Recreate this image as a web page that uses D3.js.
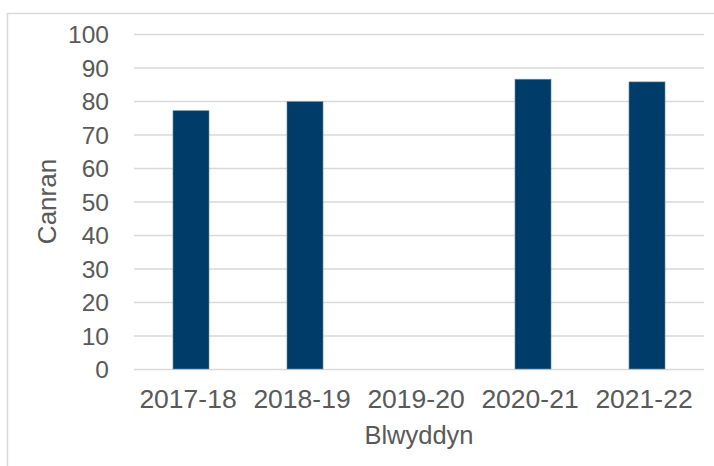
<!DOCTYPE html>
<html>
<head>
<meta charset="utf-8">
<script src="https://cdn.jsdelivr.net/npm/d3@7"></script>
<style>
  html, body { margin: 0; padding: 0; background: #fff; }
  svg { display: block; }
  text { font-family: "Liberation Sans", Arial, sans-serif; fill: #595959; }
</style>
</head>
<body>
<svg id="chart" width="714" height="466"></svg>
<script>
// Percentage by academic year (2019-20 has no value)
const years = ["2017-18", "2018-19", "2019-20", "2020-21", "2021-22"];
const percentages = [77.1, 79.8, null, 86.5, 85.7];
const yTicks = [0, 10, 20, 30, 40, 50, 60, 70, 80, 90, 100];
const xTitle = "Blwyddyn";
const yTitle = "Canran";

const svg = d3.select("#chart");
const margin = { left: 134, right: 10, top: 34, bottom: 97 };
const W = 714, H = 466;

// Outer chart frame
svg.append("rect")
  .attr("x", 7.5).attr("y", 13.5)
  .attr("width", 740).attr("height", 500)
  .attr("fill", "none")
  .attr("stroke", "#d9d9d9")
  .attr("stroke-width", 1.5);

const x = d3.scaleBand()
  .domain(years)
  .range([margin.left, W - margin.right])
  .paddingInner(0.684)
  .paddingOuter(0.342);

const y = d3.scaleLinear()
  .domain([0, 100])
  .range([H - margin.bottom, margin.top]);

// Horizontal gridlines
const yAxis = d3.axisLeft(y)
  .tickValues(yTicks)
  .tickSize(-(W - margin.left - margin.right))
  .tickPadding(25)
  .tickFormat(d3.format("d"));

const gy = svg.append("g")
  .attr("transform", `translate(${margin.left},0)`)
  .call(yAxis);
gy.select(".domain").remove();
gy.selectAll(".tick line").attr("stroke", "#d9d9d9").attr("stroke-width", 1.5);
gy.selectAll(".tick text")
  .attr("font-size", 24.5)
  .attr("dy", "0.35em")
  .style("fill", "#595959");

// Bars
svg.append("g")
  .selectAll("rect")
  .data(years.map((yr, i) => ({ yr, v: percentages[i] })).filter(d => d.v != null))
  .join("rect")
  .attr("x", d => x(d.yr))
  .attr("width", x.bandwidth())
  .attr("y", d => y(d.v))
  .attr("height", d => y(0) - y(d.v))
  .attr("fill", "#003c6a")
  .attr("stroke", "#6f8aa3")
  .attr("stroke-width", 0.6);

// Category axis labels
const xAxis = d3.axisBottom(x).tickSize(0).tickPadding(0);
const gx = svg.append("g")
  .attr("transform", `translate(-3,${H - margin.bottom})`)
  .call(xAxis);
gx.select(".domain").remove();
gx.selectAll(".tick text")
  .attr("font-size", 26.5)
  .attr("y", 39)
  .attr("dy", 0)
  .style("fill", "#595959");

// Axis titles
svg.append("text")
  .attr("x", (margin.left + W - margin.right) / 2)
  .attr("y", 444)
  .attr("text-anchor", "middle")
  .attr("font-size", 25.5)
  .text(xTitle);

svg.append("text")
  .attr("transform", `translate(56,${(margin.top + H - margin.bottom) / 2}) rotate(-90)`)
  .attr("text-anchor", "middle")
  .attr("font-size", 26)
  .text(yTitle);
</script>
</body>
</html>
